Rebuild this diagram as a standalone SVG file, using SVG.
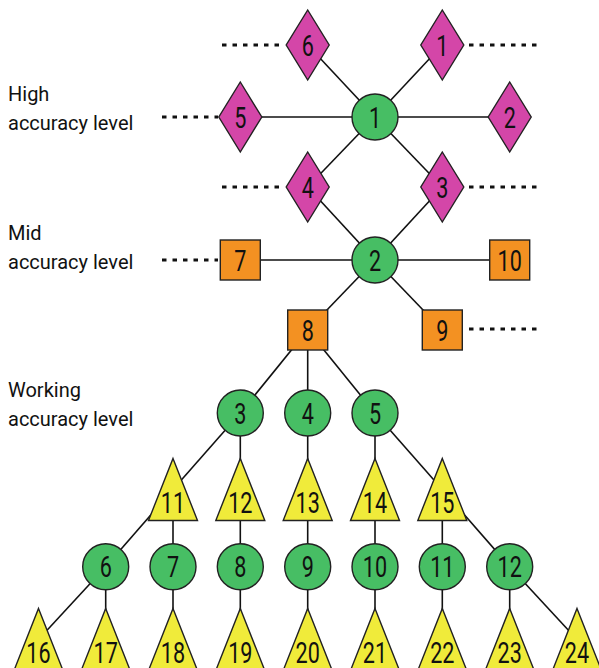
<svg xmlns="http://www.w3.org/2000/svg" width="599" height="668" viewBox="0 0 599 668">
<style>
.edge{stroke:#111;stroke-width:1.6;fill:none}
.dot{stroke:#111;stroke-width:3;stroke-dasharray:4.5 6;fill:none}
.dia{fill:#D446A8;stroke:#222;stroke-width:1.4}
.cir{fill:#47BE64;stroke:#222;stroke-width:1.4}
.sq{fill:#F39122;stroke:#222;stroke-width:1.4}
.tri{fill:#F0EB3A;stroke:#222;stroke-width:1.4}
.num{font-family:Roboto,"Liberation Sans",sans-serif;font-size:30px;fill:#111;text-anchor:middle}
.lab{font-family:Roboto,"Liberation Sans",sans-serif;font-size:20px;font-weight:400;fill:#111}
</style>
<rect width="599" height="668" fill="#fff"/>
<g id="connectors">
<line class="edge" x1="375" y1="117" x2="307.7" y2="45"/>
<line class="edge" x1="375" y1="117" x2="442.3" y2="45"/>
<line class="edge" x1="375" y1="117" x2="240.3" y2="117"/>
<line class="edge" x1="375" y1="117" x2="509.7" y2="117"/>
<line class="edge" x1="375" y1="117" x2="307.7" y2="187"/>
<line class="edge" x1="375" y1="117" x2="442.3" y2="187"/>
<line class="edge" x1="307.7" y1="187" x2="375" y2="260"/>
<line class="edge" x1="442.3" y1="187" x2="375" y2="260"/>
<line class="edge" x1="375" y1="260" x2="240.3" y2="260"/>
<line class="edge" x1="375" y1="260" x2="509.7" y2="260"/>
<line class="edge" x1="375" y1="260" x2="307.7" y2="330"/>
<line class="edge" x1="375" y1="260" x2="442.3" y2="330"/>
<line class="edge" x1="307.7" y1="330" x2="240.3" y2="413"/>
<line class="edge" x1="307.7" y1="330" x2="307.7" y2="413"/>
<line class="edge" x1="307.7" y1="330" x2="375" y2="413"/>
<line class="edge" x1="240.3" y1="413" x2="173" y2="489.5"/>
<line class="edge" x1="240.3" y1="413" x2="240.3" y2="489.5"/>
<line class="edge" x1="307.7" y1="413" x2="307.7" y2="489.5"/>
<line class="edge" x1="375" y1="413" x2="375" y2="489.5"/>
<line class="edge" x1="375" y1="413" x2="442.3" y2="489.5"/>
<line class="edge" x1="173" y1="489.5" x2="105.7" y2="566.7"/>
<line class="edge" x1="173" y1="489.5" x2="173" y2="566.7"/>
<line class="edge" x1="240.3" y1="489.5" x2="240.3" y2="566.7"/>
<line class="edge" x1="307.7" y1="489.5" x2="307.7" y2="566.7"/>
<line class="edge" x1="375" y1="489.5" x2="375" y2="566.7"/>
<line class="edge" x1="442.3" y1="489.5" x2="442.3" y2="566.7"/>
<line class="edge" x1="442.3" y1="489.5" x2="509.7" y2="566.7"/>
<line class="edge" x1="105.7" y1="566.7" x2="38.5" y2="639.5"/>
<line class="edge" x1="105.7" y1="566.7" x2="105.7" y2="639.5"/>
<line class="edge" x1="173" y1="566.7" x2="173" y2="639.5"/>
<line class="edge" x1="240.3" y1="566.7" x2="240.3" y2="639.5"/>
<line class="edge" x1="307.7" y1="566.7" x2="307.7" y2="639.5"/>
<line class="edge" x1="375" y1="566.7" x2="375" y2="639.5"/>
<line class="edge" x1="442.3" y1="566.7" x2="442.3" y2="639.5"/>
<line class="edge" x1="509.7" y1="566.7" x2="509.7" y2="639.5"/>
<line class="edge" x1="509.7" y1="566.7" x2="577" y2="639.5"/>
<line class="dot" x1="222" y1="45" x2="284" y2="45"/>
<line class="dot" x1="469" y1="45" x2="540" y2="45"/>
<line class="dot" x1="162" y1="117" x2="218" y2="117"/>
<line class="dot" x1="222" y1="187" x2="284" y2="187"/>
<line class="dot" x1="469" y1="187" x2="540" y2="187"/>
<line class="dot" x1="162" y1="260" x2="218" y2="260"/>
<line class="dot" x1="469" y1="329" x2="540" y2="329"/>
</g>
<g id="labels">
<text class="lab" x="8" y="101">High</text>
<text class="lab" x="8" y="130">accuracy level</text>
<text class="lab" x="8" y="240">Mid</text>
<text class="lab" x="8" y="269">accuracy level</text>
<text class="lab" x="8" y="397">Working</text>
<text class="lab" x="8" y="426">accuracy level</text>
</g>
<g id="d6"><polygon class="dia" points="307.7,10 329.2,45 307.7,80 286.2,45"/><text class="num" transform="translate(307.7,55.7) scale(0.72,1)">6</text></g>
<g id="d1"><polygon class="dia" points="442.3,10 463.8,45 442.3,80 420.8,45"/><text class="num" transform="translate(442.3,55.7) scale(0.72,1)">1</text></g>
<g id="d5"><polygon class="dia" points="240.3,82 261.8,117 240.3,152 218.8,117"/><text class="num" transform="translate(240.3,127.7) scale(0.72,1)">5</text></g>
<g id="d2"><polygon class="dia" points="509.7,82 531.2,117 509.7,152 488.2,117"/><text class="num" transform="translate(509.7,127.7) scale(0.72,1)">2</text></g>
<g id="d4"><polygon class="dia" points="307.7,152 329.2,187 307.7,222 286.2,187"/><text class="num" transform="translate(307.7,197.7) scale(0.72,1)">4</text></g>
<g id="d3"><polygon class="dia" points="442.3,152 463.8,187 442.3,222 420.8,187"/><text class="num" transform="translate(442.3,197.7) scale(0.72,1)">3</text></g>
<g id="c1"><circle class="cir" cx="375" cy="117" r="23"/><text class="num" transform="translate(375,127.7) scale(0.72,1)">1</text></g>
<g id="c2"><circle class="cir" cx="375" cy="260" r="23"/><text class="num" transform="translate(375,270.7) scale(0.72,1)">2</text></g>
<g id="s7"><rect class="sq" x="220.3" y="240" width="40" height="40"/><text class="num" transform="translate(240.3,270.7) scale(0.72,1)">7</text></g>
<g id="s10"><rect class="sq" x="489.7" y="240" width="40" height="40"/><text class="num" transform="translate(509.7,270.7) scale(0.72,1)">10</text></g>
<g id="s8"><rect class="sq" x="287.7" y="310" width="40" height="40"/><text class="num" transform="translate(307.7,340.7) scale(0.72,1)">8</text></g>
<g id="s9"><rect class="sq" x="422.3" y="310" width="40" height="40"/><text class="num" transform="translate(442.3,340.7) scale(0.72,1)">9</text></g>
<g id="c3"><circle class="cir" cx="240.3" cy="413" r="23"/><text class="num" transform="translate(240.3,423.7) scale(0.72,1)">3</text></g>
<g id="c4"><circle class="cir" cx="307.7" cy="413" r="23"/><text class="num" transform="translate(307.7,423.7) scale(0.72,1)">4</text></g>
<g id="c5"><circle class="cir" cx="375" cy="413" r="23"/><text class="num" transform="translate(375,423.7) scale(0.72,1)">5</text></g>
<g id="t11"><polygon class="tri" points="173,458.5 197.5,520.5 148.5,520.5"/><text class="num" transform="translate(173,513) scale(0.72,1)">11</text></g>
<g id="t12"><polygon class="tri" points="240.3,458.5 264.8,520.5 215.8,520.5"/><text class="num" transform="translate(240.3,513) scale(0.72,1)">12</text></g>
<g id="t13"><polygon class="tri" points="307.7,458.5 332.2,520.5 283.2,520.5"/><text class="num" transform="translate(307.7,513) scale(0.72,1)">13</text></g>
<g id="t14"><polygon class="tri" points="375,458.5 399.5,520.5 350.5,520.5"/><text class="num" transform="translate(375,513) scale(0.72,1)">14</text></g>
<g id="t15"><polygon class="tri" points="442.3,458.5 466.8,520.5 417.8,520.5"/><text class="num" transform="translate(442.3,513) scale(0.72,1)">15</text></g>
<g id="c6"><circle class="cir" cx="105.7" cy="566.7" r="23"/><text class="num" transform="translate(105.7,577.4) scale(0.72,1)">6</text></g>
<g id="c7"><circle class="cir" cx="173" cy="566.7" r="23"/><text class="num" transform="translate(173,577.4) scale(0.72,1)">7</text></g>
<g id="c8"><circle class="cir" cx="240.3" cy="566.7" r="23"/><text class="num" transform="translate(240.3,577.4) scale(0.72,1)">8</text></g>
<g id="c9"><circle class="cir" cx="307.7" cy="566.7" r="23"/><text class="num" transform="translate(307.7,577.4) scale(0.72,1)">9</text></g>
<g id="c10"><circle class="cir" cx="375" cy="566.7" r="23"/><text class="num" transform="translate(375,577.4) scale(0.72,1)">10</text></g>
<g id="c11"><circle class="cir" cx="442.3" cy="566.7" r="23"/><text class="num" transform="translate(442.3,577.4) scale(0.72,1)">11</text></g>
<g id="c12"><circle class="cir" cx="509.7" cy="566.7" r="23"/><text class="num" transform="translate(509.7,577.4) scale(0.72,1)">12</text></g>
<g id="t16"><polygon class="tri" points="38.5,608.5 63,670.5 14,670.5"/><text class="num" transform="translate(38.5,662.5) scale(0.72,1)">16</text></g>
<g id="t17"><polygon class="tri" points="105.7,608.5 130.2,670.5 81.2,670.5"/><text class="num" transform="translate(105.7,662.5) scale(0.72,1)">17</text></g>
<g id="t18"><polygon class="tri" points="173,608.5 197.5,670.5 148.5,670.5"/><text class="num" transform="translate(173,662.5) scale(0.72,1)">18</text></g>
<g id="t19"><polygon class="tri" points="240.3,608.5 264.8,670.5 215.8,670.5"/><text class="num" transform="translate(240.3,662.5) scale(0.72,1)">19</text></g>
<g id="t20"><polygon class="tri" points="307.7,608.5 332.2,670.5 283.2,670.5"/><text class="num" transform="translate(307.7,662.5) scale(0.72,1)">20</text></g>
<g id="t21"><polygon class="tri" points="375,608.5 399.5,670.5 350.5,670.5"/><text class="num" transform="translate(375,662.5) scale(0.72,1)">21</text></g>
<g id="t22"><polygon class="tri" points="442.3,608.5 466.8,670.5 417.8,670.5"/><text class="num" transform="translate(442.3,662.5) scale(0.72,1)">22</text></g>
<g id="t23"><polygon class="tri" points="509.7,608.5 534.2,670.5 485.2,670.5"/><text class="num" transform="translate(509.7,662.5) scale(0.72,1)">23</text></g>
<g id="t24"><polygon class="tri" points="577,608.5 601.5,670.5 552.5,670.5"/><text class="num" transform="translate(577,662.5) scale(0.72,1)">24</text></g>
</svg>
